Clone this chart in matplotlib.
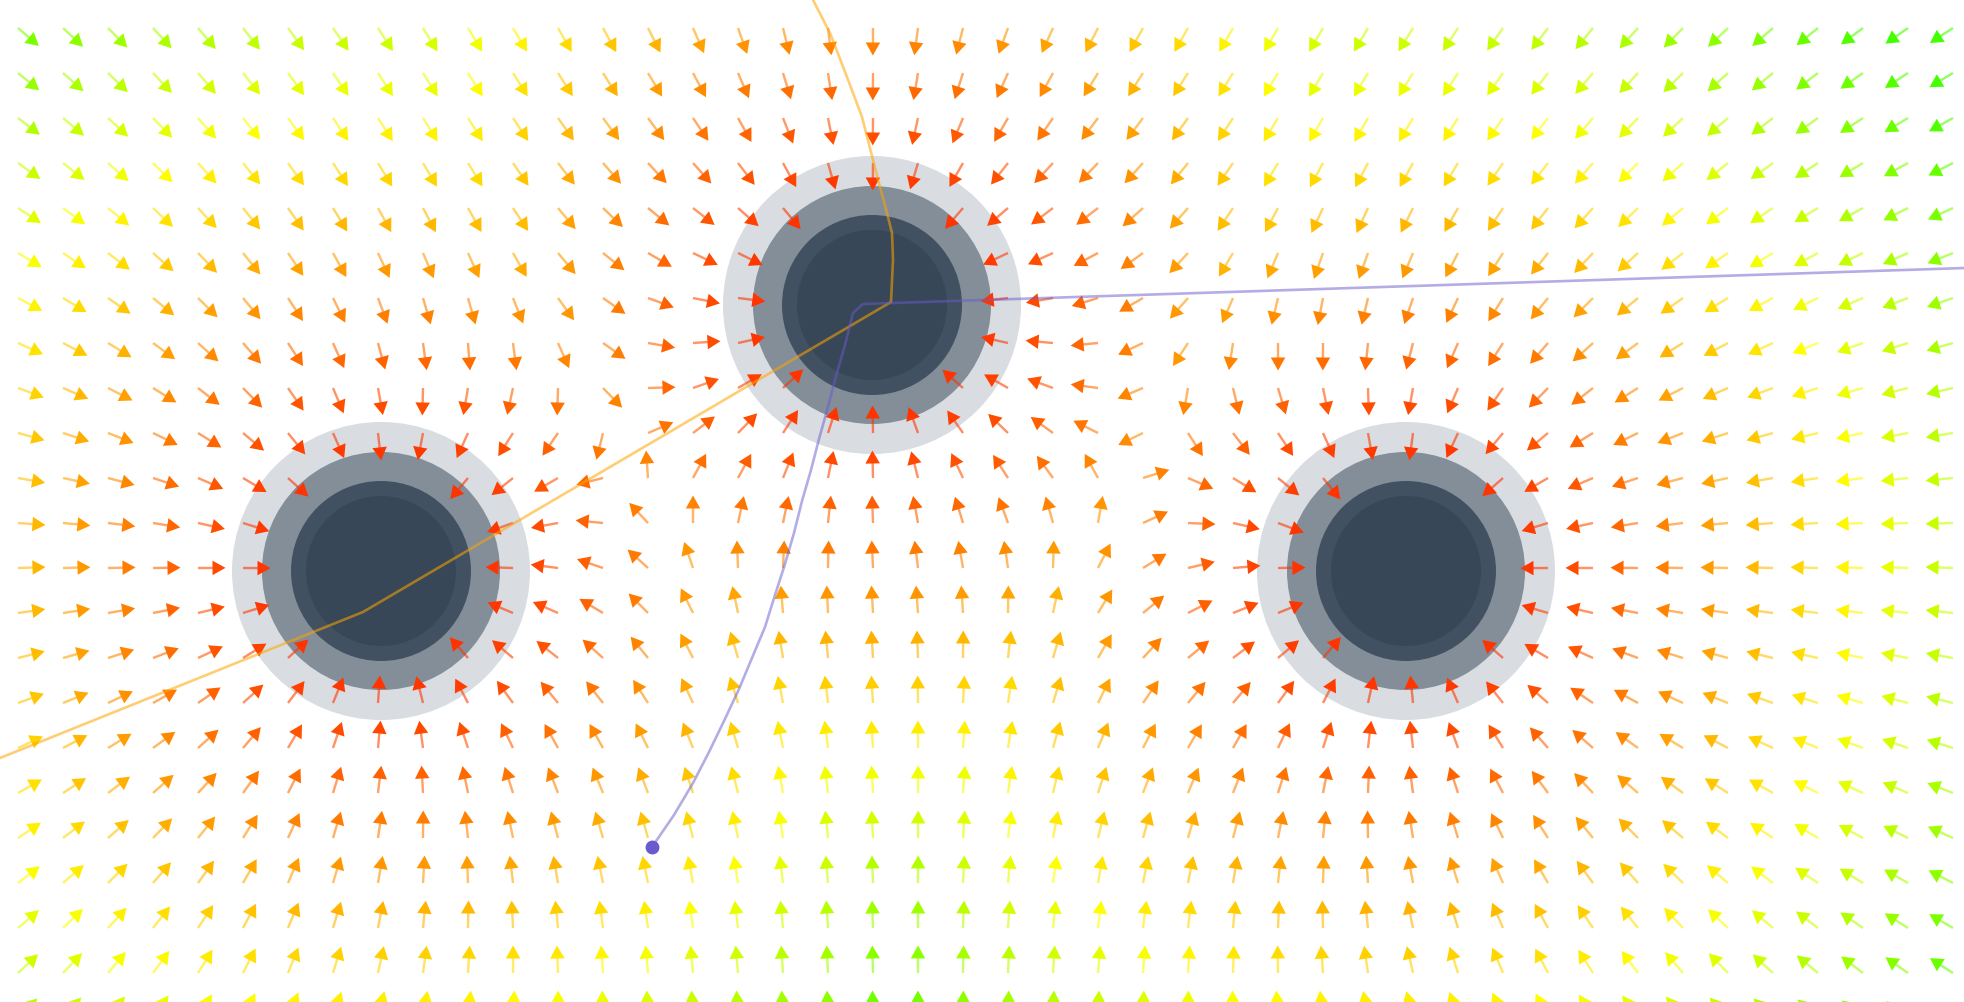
import colorsys
import numpy as np
import matplotlib
matplotlib.use("Agg")
import matplotlib.pyplot as plt
from matplotlib.patches import Circle

# ---------------- data (pixel coordinates) ----------------
attractor_x = [872, 381, 1406]
attractor_y = [305, 571, 571]
attractor_mass = [1.0, 1.0, 1.0]

orange_x = [813, 830, 847, 862, 873, 880, 887, 892, 893, 891, 363, 0]
orange_y = [0, 33, 77, 117, 160, 187, 213, 233, 260, 302, 612, 758]

purple_x = [1965, 892, 863, 853, 845, 836, 828, 819, 811, 802, 794, 785,
            775, 765, 752, 739, 724, 709, 693, 674, 652]
purple_y = [268, 303, 304, 313, 345, 376, 407, 439, 470, 501, 533, 564,
            595, 627, 658, 689, 721, 752, 783, 815, 847]

# ---------------- layout / style constants ----------------
W, H = 1965, 1002
GRID_X0, GRID_Y0, GRID_STEP = 18, 28, 45
N_COLS, N_ROWS = 44, 23
ARROW_LEN, HEAD_LEN, HEAD_W, SHAFT_W = 27.5, 13.0, 14.5, 2.4
SKIP_R = 115
RING_R = [149, 119, 90, 75]
RING_C = ["#d9dde1", "#838e98", "#425162", "#374757"]

# ---------------- field on the grid ----------------
gx = GRID_X0 + GRID_STEP * np.arange(N_COLS)
gy = GRID_Y0 + GRID_STEP * np.arange(N_ROWS)
X, Y = np.meshgrid(gx, gy)
X = X.ravel().astype(float)
Y = Y.ravel().astype(float)

Fx = np.zeros_like(X)
Fy = np.zeros_like(Y)
peak = np.zeros_like(X)
for ax_, ay_, m in zip(attractor_x, attractor_y, attractor_mass):
    dx = ax_ - X
    dy = ay_ - Y
    r2 = dx * dx + dy * dy
    r = np.sqrt(r2)
    Fx += m * dx / (r2 * r)
    Fy += m * dy / (r2 * r)
    peak = np.maximum(peak, m / r2)

d_eff = 1.0 / np.sqrt(peak)          # distance to the strongest single pull
keep = d_eff > SKIP_R
X, Y, Fx, Fy, d_eff = X[keep], Y[keep], Fx[keep], Fy[keep], d_eff[keep]
mag = np.hypot(Fx, Fy)
ux, uy = Fx / mag, Fy / mag

hue = np.clip(12 + 0.0553 * np.clip(d_eff - 130, 0, None) ** 1.16, 12, 104)
colors = [colorsys.hls_to_rgb(h / 360.0, 0.5, 1.0) for h in hue]

# ---------------- figure ----------------
fig = plt.figure(figsize=(W / 100, H / 100), dpi=100)
ax = fig.add_axes([0, 0, 1, 1])
ax.set_xlim(0, W)
ax.set_ylim(H, 0)
ax.axis("off")

for ax_, ay_ in zip(attractor_x, attractor_y):
    for rr, cc in zip(RING_R, RING_C):
        ax.add_patch(Circle((ax_, ay_), rr, color=cc, lw=0, zorder=1))

shaft_len = ARROW_LEN - HEAD_LEN + 1
ax.quiver(X, Y, shaft_len * ux, shaft_len * uy, color=colors, alpha=0.6,
          angles="xy", scale_units="xy", scale=1, units="xy", width=SHAFT_W,
          headwidth=1, headlength=0, headaxislength=0, pivot="tail", zorder=2)
hx = X + (ARROW_LEN - HEAD_LEN) * ux
hy = Y + (ARROW_LEN - HEAD_LEN) * uy
ax.quiver(hx, hy, HEAD_LEN * ux, HEAD_LEN * uy, color=colors,
          angles="xy", scale_units="xy", scale=1, units="xy", width=1.0,
          headwidth=HEAD_W, headlength=HEAD_LEN, headaxislength=HEAD_LEN,
          minshaft=0.5, minlength=0.5, pivot="tail", zorder=3)

ax.plot(orange_x, orange_y, color="#FFA500", alpha=0.55, lw=1.9, zorder=4,
        solid_joinstyle="miter")
ax.plot(purple_x, purple_y, color="#6A5ACD", alpha=0.5, lw=1.9, zorder=4)
ax.plot(purple_x[-1], purple_y[-1], "o", ms=10, color="#6A5ACD", mec="none", zorder=5)

fig.savefig("out.png", dpi=100, facecolor="white")
